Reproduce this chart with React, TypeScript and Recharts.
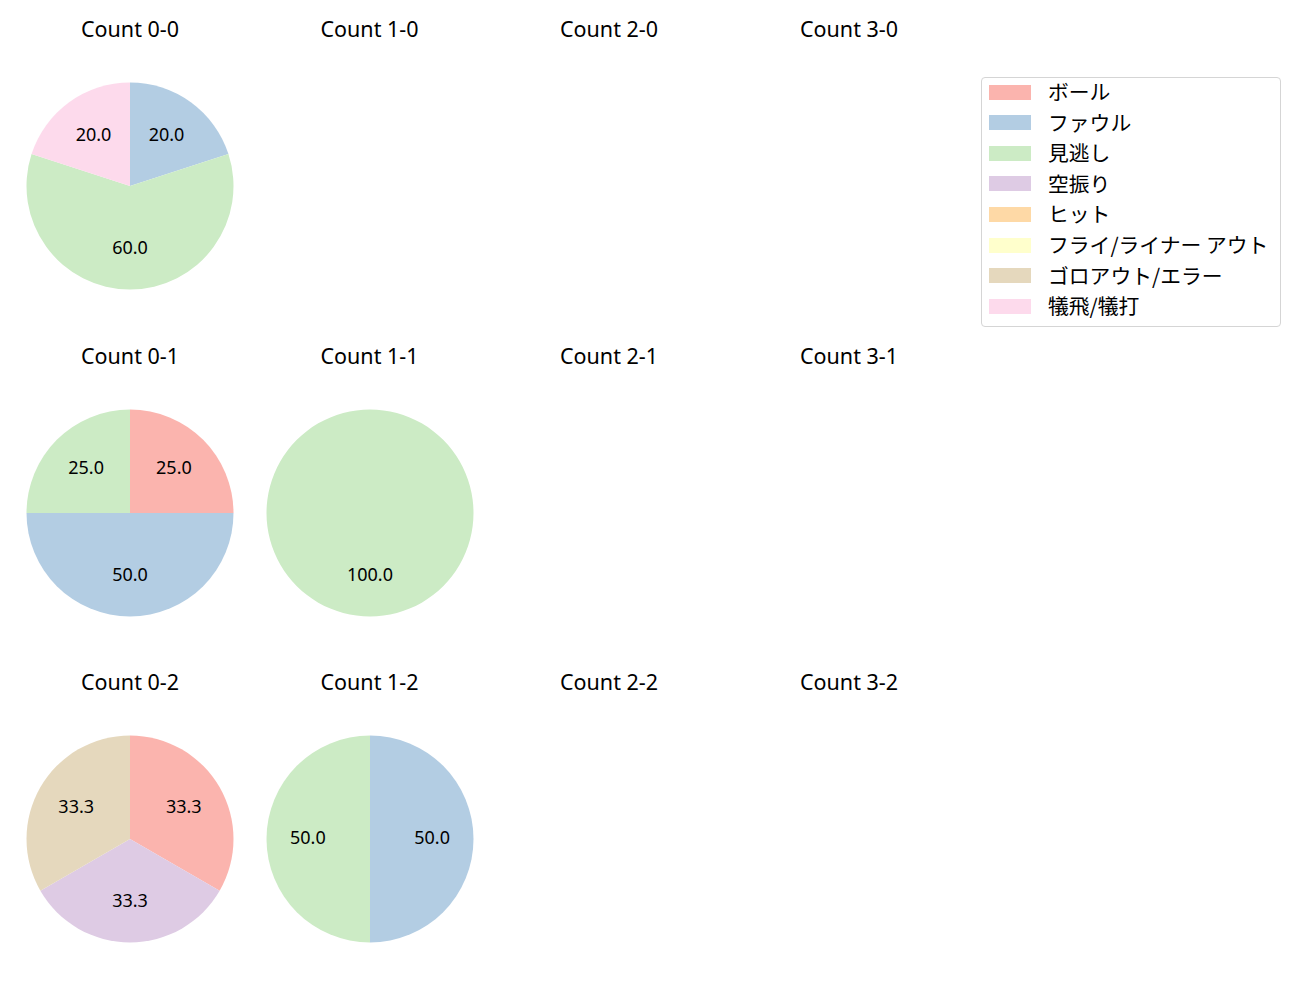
import React from "react";
import { PieChart, Pie, Cell } from "recharts";

const categories = ["ボール", "ファウル", "見逃し", "空振り", "ヒット", "フライ/ライナー アウト", "ゴロアウト/エラー", "犠飛/犠打"];
const colors = ["#fbb4ae", "#b3cde3", "#ccebc5", "#decbe4", "#fed9a6", "#ffffcc", "#e5d8bd", "#fddaec"];

const countLabels = [
  ["0-0", "1-0", "2-0", "3-0"],
  ["0-1", "1-1", "2-1", "3-1"],
  ["0-2", "1-2", "2-2", "3-2"],
];

// counts per category (order = categories)
const values: Record<string, number[]> = {
  "0-0": [0, 1, 3, 0, 0, 0, 0, 1],
  "1-0": [0, 0, 0, 0, 0, 0, 0, 0],
  "2-0": [0, 0, 0, 0, 0, 0, 0, 0],
  "3-0": [0, 0, 0, 0, 0, 0, 0, 0],
  "0-1": [1, 2, 1, 0, 0, 0, 0, 0],
  "1-1": [0, 0, 1, 0, 0, 0, 0, 0],
  "2-1": [0, 0, 0, 0, 0, 0, 0, 0],
  "3-1": [0, 0, 0, 0, 0, 0, 0, 0],
  "0-2": [1, 0, 0, 1, 0, 0, 1, 0],
  "1-2": [0, 1, 1, 0, 0, 0, 0, 0],
  "2-2": [0, 0, 0, 0, 0, 0, 0, 0],
  "3-2": [0, 0, 0, 0, 0, 0, 0, 0],
};

const colX = [130, 369.5, 609, 849];
const rowY = [186, 512.5, 839];
const titleY = [29, 356, 682];
const R = 103.5;
const LATIN = "'Noto Sans', 'Noto Sans CJK JP', sans-serif";
const CJK = "'Noto Sans CJK JP', 'Noto Sans', sans-serif";
const RAD = Math.PI / 180;

const renderLabel = (p: any) => {
  const r = p.outerRadius * 0.6;
  const x = p.cx + r * Math.cos(-p.midAngle * RAD);
  const y = p.cy + r * Math.sin(-p.midAngle * RAD);
  return (
    <text x={x} y={y} dy="0.3em" textAnchor="middle" fill="#000" fontSize={18} fontFamily={LATIN}>
      {(p.percent * 100).toFixed(1)}
    </text>
  );
};

export default function App() {
  return (
    <div style={{ position: "absolute", left: 0, top: 0, width: 1300, height: 1000, background: "#fff" }}>
      {countLabels.map((row, ri) =>
        row.map((c, ci) => {
          const data = values[c]
            .map((v, i) => ({ name: categories[i], value: v, color: colors[i] }))
            .filter((d) => d.value > 0);
          return (
            <React.Fragment key={c}>
              <div
                style={{
                  position: "absolute",
                  left: colX[ci] - 100,
                  width: 200,
                  top: titleY[ri] - 15,
                  height: 30,
                  lineHeight: "30px",
                  textAlign: "center",
                  fontSize: 21.5,
                  fontFamily: LATIN,
                  color: "#000",
                }}
              >
                {"Count " + c}
              </div>
              {data.length > 0 && (
                <div style={{ position: "absolute", left: colX[ci] - 120, top: rowY[ri] - 120 }}>
                  <PieChart width={240} height={240} margin={{ top: 0, right: 0, bottom: 0, left: 0 }}>
                    <Pie
                      data={data}
                      dataKey="value"
                      nameKey="name"
                      cx={120}
                      cy={120}
                      outerRadius={R}
                      startAngle={90}
                      endAngle={-270}
                      stroke="none"
                      label={renderLabel}
                      labelLine={false}
                      isAnimationActive={false}
                    >
                      {data.map((d) => (
                        <Cell key={d.name} fill={d.color} />
                      ))}
                    </Pie>
                  </PieChart>
                </div>
              )}
            </React.Fragment>
          );
        })
      )}
      <div
        style={{
          position: "absolute",
          left: 981,
          top: 77,
          width: 298,
          height: 248,
          border: "1px solid #d5d5d5",
          borderRadius: 4,
        }}
      >
        {categories.map((name, i) => (
          <div key={name} style={{ position: "absolute", left: 0, top: i * 30.6, height: 30, width: 298 }}>
            <div style={{ position: "absolute", left: 7, top: 6.5, width: 42, height: 15, background: colors[i] }} />
            <div
              style={{
                position: "absolute",
                left: 66,
                top: -2,
                height: 30,
                lineHeight: "30px",
                fontSize: 20.8,
                fontFamily: CJK,
                color: "#000",
                whiteSpace: "nowrap",
              }}
            >
              {name}
            </div>
          </div>
        ))}
      </div>
    </div>
  );
}
